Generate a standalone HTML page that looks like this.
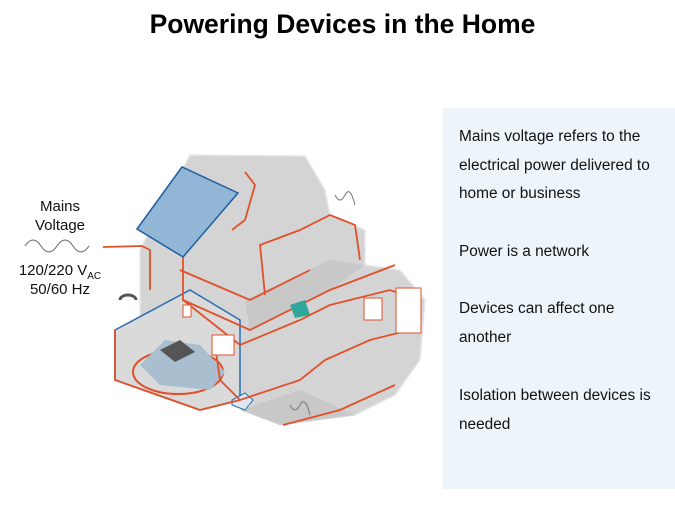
<!DOCTYPE html>
<html><head><style>
body{margin:0;width:675px;height:506px;background:#fff;font-family:"Liberation Sans",sans-serif;position:relative;overflow:hidden}
.t{position:absolute;white-space:nowrap}
#title{left:0;width:675px;text-align:center;top:9px;font-size:26.5px;font-weight:bold;padding-left:10px;box-sizing:border-box}
#panel{position:absolute;left:443px;top:108px;width:232px;height:381px;background:#eef5fa}
.p{position:absolute;left:459px;font-size:15.4px;color:#111}
.l{font-size:15px;color:#111;text-align:center;width:120px;left:0}
</style></head><body>
<div class="t" id="title">Powering Devices in the Home</div>
<div id="panel"></div>
<div class="t p" style="top:128px">Mains voltage refers to the</div>
<div class="t p" style="top:157px">electrical power delivered to</div>
<div class="t p" style="top:185px">home or business</div>
<div class="t p" style="top:243px">Power is a network</div>
<div class="t p" style="top:300px">Devices can affect one</div>
<div class="t p" style="top:329px">another</div>
<div class="t p" style="top:387px">Isolation between devices is</div>
<div class="t p" style="top:416px">needed</div>
<div class="t l" style="top:198px">Mains</div>
<div class="t l" style="top:217px">Voltage</div>
<div class="t l" style="top:262px">120/220 V<sub style="font-size:10px">AC</sub></div>
<div class="t l" style="top:281px">50/60 Hz</div>
<svg width="675" height="506" style="position:absolute;left:0;top:0">
<path d="M25 246 q8 -12 16 0 t16 0 t16 0 t16 0" fill="none" stroke="#666" stroke-width="1"/>
<g fill="#d4d4d4" stroke="#e8e8e8" stroke-width="1.5">
<polygon points="190,155 305,156 325,190 330,215 365,230 365,265 400,270 425,300 420,360 395,395 355,415 280,425 240,400 200,380 160,360 140,340 140,250 150,230"/>
</g>
<g fill="#c8c8c8">
<polygon points="240,410 300,390 355,415 280,425"/>
<polygon points="245,300 330,260 365,265 330,290 250,330"/>
</g>
<polygon points="115,330 190,290 240,320 240,400 200,410 115,380" fill="#dadada" stroke="#2a6db0" stroke-width="1.5"/>
<polygon points="137,229 182,167 238,193 183,257" fill="#92b6d6" stroke="#1f5fa0" stroke-width="1.5"/>
<ellipse cx="178" cy="372" rx="45" ry="22" fill="none" stroke="#e0502a" stroke-width="2"/>
<polygon points="140,365 165,340 200,345 225,372 210,390 160,385" fill="#a9bfd0"/>
<polygon points="160,350 180,340 195,352 175,362" fill="#555"/>
<polygon points="232,400 245,393 253,400 245,410 232,405" fill="#dde8f3" stroke="#2a6db0"/>
<g fill="none" stroke="#e0502a" stroke-width="1.8">
<path d="M103 247 L142 246 L150 250 L150 290"/>
<path d="M183 257 L183 300 L250 330 L330 290 L395 265"/>
<path d="M183 300 L240 345 L300 320 L330 305 L390 290 L420 300"/>
<path d="M265 295 L260 245 L300 230 L330 215 L355 225 L360 260"/>
<path d="M215 345 L220 380 L240 400 L300 380 L325 360 L370 340 L410 330"/>
<path d="M180 270 L250 300 L310 270"/>
<path d="M115 330 L115 380 L200 410 L240 400"/>
<path d="M283 425 L340 410 L395 385"/>
<path d="M245 172 L255 185 L245 220 L232 230"/>
</g>
<rect x="183" y="305" width="8" height="12" fill="#fff" stroke="#e0502a"/>
<rect x="212" y="335" width="22" height="20" fill="#fff" stroke="#e0502a"/>
<rect x="396" y="288" width="25" height="45" fill="#fff" stroke="#e0502a"/>
<rect x="364" y="298" width="18" height="22" fill="#fff" stroke="#e0502a"/>
<polygon points="290,305 305,300 310,315 295,318" fill="#2fa79a"/>
<path d="M120 300 a8 5 0 1 1 16 0" fill="none" stroke="#555" stroke-width="3"/>
<path d="M335 195 q5 10 10 0 t10 10 M290 405 q5 10 10 0 t10 10" fill="none" stroke="#777"/>
</svg>
</body></html>
